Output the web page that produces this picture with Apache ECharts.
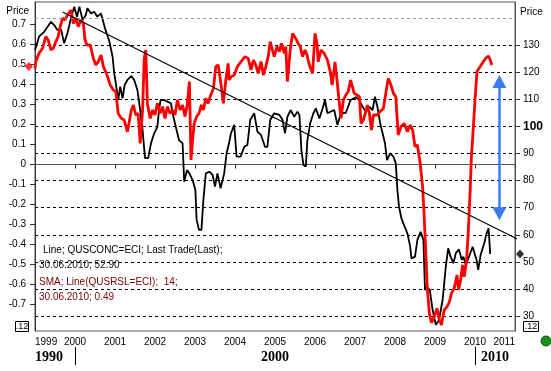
<!DOCTYPE html>
<html><head><meta charset="utf-8">
<script src="https://cdn.jsdelivr.net/npm/echarts@6/dist/echarts.min.js"></script>
<style>html,body{margin:0;padding:0;background:#fff}#c{width:551px;height:371px}</style>
</head><body><div id="c"></div>
<script>
// ---- data ----
const yearTicks = [1999,2000,2001,2002,2003,2004,2005,2006,2007,2008,2009,2010,2011];
const leftTicks = [-0.7,-0.6,-0.5,-0.4,-0.3,-0.2,-0.1,0,0.1,0.2,0.3,0.4,0.5,0.6,0.7];
const rightTicks = [30,40,50,60,70,80,90,100,110,120,130];
const decadeSeparators = [2000, 2010];
const decadeLabelPos = [1999.35, 2005, 2010.5];
const legendLines = ['Line; QUSCONC=ECI; Last Trade(Last);', '30.06.2010; 52.90', 'SMA; Line(QUSRSL=ECI);  14;', '30.06.2010; 0.49'];
const lastConf = 52.90;
const lastSales = 0.49;
// consumer confidence (black, right axis)
const consumerConfidence = [[1999.00,128.3],[1999.10,133.2],[1999.23,135.0],[1999.40,138.7],[1999.48,137.5],[1999.56,135.7],[1999.65,135.9],[1999.73,130.8],[1999.81,134.5],[1999.90,140.0],[1999.98,144.3],[2000.05,140.6],[2000.11,144.3],[2000.19,139.4],[2000.27,141.2],[2000.31,143.7],[2000.40,141.8],[2000.48,142.4],[2000.56,140.6],[2000.65,141.8],[2000.75,136.3],[2000.86,131.4],[2000.94,125.8],[2000.98,119.7],[2001.02,116.0],[2001.08,109.8],[2001.13,114.7],[2001.19,110.4],[2001.24,115.3],[2001.31,117.2],[2001.41,118.7],[2001.48,117.2],[2001.56,113.5],[2001.63,106.1],[2001.69,98.7],[2001.75,88.3],[2001.83,88.3],[2001.90,93.8],[2001.98,97.5],[2002.06,99.9],[2002.10,106.1],[2002.14,109.8],[2002.23,109.8],[2002.31,109.2],[2002.40,108.6],[2002.44,104.9],[2002.52,99.9],[2002.60,95.0],[2002.69,93.8],[2002.73,79.6],[2002.80,83.9],[2002.86,82.7],[2002.94,80.2],[2003.01,76.5],[2003.04,65.5],[2003.10,61.8],[2003.16,61.8],[2003.21,72.9],[2003.27,82.7],[2003.36,83.3],[2003.44,82.1],[2003.50,77.8],[2003.56,82.7],[2003.64,77.2],[2003.73,82.7],[2003.79,90.1],[2003.85,93.8],[2003.90,97.5],[2003.98,100.6],[2004.04,88.9],[2004.14,88.9],[2004.23,92.5],[2004.31,93.2],[2004.38,102.4],[2004.48,104.9],[2004.56,98.1],[2004.65,96.9],[2004.75,92.5],[2004.81,92.5],[2004.88,102.4],[2004.98,104.9],[2005.11,104.3],[2005.19,102.4],[2005.25,97.5],[2005.31,103.6],[2005.39,106.1],[2005.48,103.6],[2005.56,105.5],[2005.61,104.3],[2005.66,91.3],[2005.71,85.8],[2005.77,85.2],[2005.81,95.0],[2005.88,101.2],[2005.96,104.9],[2006.02,106.7],[2006.11,103.0],[2006.19,106.7],[2006.25,109.8],[2006.31,104.9],[2006.48,106.1],[2006.56,100.6],[2006.65,104.9],[2006.77,105.1],[2006.89,109.8],[2007.02,110.8],[2007.11,109.8],[2007.19,107.3],[2007.27,105.5],[2007.36,107.3],[2007.44,106.1],[2007.50,111.0],[2007.56,107.3],[2007.63,101.2],[2007.69,97.5],[2007.75,93.8],[2007.80,87.6],[2007.88,90.1],[2007.96,88.9],[2008.02,86.4],[2008.06,76.5],[2008.10,70.4],[2008.16,66.1],[2008.24,63.0],[2008.31,60.5],[2008.38,55.6],[2008.41,51.3],[2008.50,51.9],[2008.56,58.1],[2008.64,61.1],[2008.71,58.1],[2008.75,39.6],[2008.80,40.8],[2008.87,39.6],[2008.94,32.2],[2009.02,26.7],[2009.10,28.5],[2009.19,35.9],[2009.27,48.2],[2009.33,55.0],[2009.39,51.9],[2009.46,49.5],[2009.52,53.2],[2009.60,54.6],[2009.67,50.7],[2009.71,51.9],[2009.77,48.8],[2009.85,51.9],[2009.94,55.6],[2009.98,56.2],[2010.04,50.7],[2010.08,47.0],[2010.14,52.5],[2010.23,56.9],[2010.29,60.5],[2010.34,62.4],[2010.38,52.9]];
// retail sales SMA 14 (red, left axis)
const retailSalesSMA = [[1999.00,0.48],[1999.02,0.514],[1999.10,0.557],[1999.19,0.582],[1999.27,0.640],[1999.33,0.623],[1999.40,0.573],[1999.46,0.582],[1999.52,0.615],[1999.58,0.640],[1999.63,0.690],[1999.69,0.732],[1999.75,0.723],[1999.81,0.748],[1999.90,0.773],[1999.96,0.706],[2000.02,0.732],[2000.08,0.690],[2000.15,0.723],[2000.21,0.706],[2000.25,0.623],[2000.30,0.598],[2000.38,0.598],[2000.46,0.531],[2000.52,0.498],[2000.58,0.514],[2000.65,0.548],[2000.71,0.490],[2000.80,0.448],[2000.88,0.398],[2000.96,0.373],[2001.02,0.364],[2001.08,0.256],[2001.16,0.231],[2001.23,0.223],[2001.31,0.164],[2001.41,0.273],[2001.46,0.298],[2001.52,0.248],[2001.58,0.256],[2001.63,0.106],[2001.69,0.273],[2001.73,0.532],[2001.77,0.573],[2001.81,0.306],[2001.88,0.231],[2001.94,0.273],[2002.00,0.248],[2002.06,0.306],[2002.13,0.256],[2002.19,0.290],[2002.25,0.231],[2002.31,0.290],[2002.38,0.256],[2002.44,0.273],[2002.50,0.248],[2002.56,0.323],[2002.63,0.273],[2002.69,0.298],[2002.75,0.240],[2002.80,0.290],[2002.86,0.415],[2002.90,0.023],[2002.94,0.123],[2002.98,0.206],[2003.04,0.240],[2003.10,0.256],[2003.16,0.298],[2003.21,0.273],[2003.27,0.331],[2003.33,0.306],[2003.38,0.340],[2003.46,0.381],[2003.52,0.490],[2003.58,0.498],[2003.64,0.415],[2003.71,0.306],[2003.77,0.423],[2003.83,0.506],[2003.85,0.423],[2003.91,0.440],[2003.98,0.448],[2004.06,0.490],[2004.15,0.515],[2004.25,0.540],[2004.33,0.531],[2004.40,0.473],[2004.46,0.523],[2004.52,0.498],[2004.58,0.456],[2004.65,0.515],[2004.71,0.448],[2004.77,0.490],[2004.83,0.540],[2004.88,0.615],[2004.92,0.623],[2004.98,0.540],[2005.05,0.590],[2005.11,0.565],[2005.16,0.606],[2005.23,0.556],[2005.27,0.590],[2005.31,0.415],[2005.38,0.573],[2005.44,0.656],[2005.52,0.631],[2005.58,0.606],[2005.63,0.590],[2005.69,0.540],[2005.75,0.573],[2005.80,0.548],[2005.86,0.498],[2005.94,0.456],[2006.00,0.656],[2006.05,0.606],[2006.08,0.514],[2006.15,0.573],[2006.23,0.556],[2006.31,0.523],[2006.38,0.465],[2006.43,0.398],[2006.50,0.514],[2006.55,0.423],[2006.61,0.306],[2006.65,0.231],[2006.71,0.323],[2006.77,0.348],[2006.83,0.365],[2006.89,0.423],[2006.94,0.431],[2006.98,0.356],[2007.05,0.348],[2007.11,0.340],[2007.15,0.206],[2007.21,0.223],[2007.27,0.265],[2007.31,0.298],[2007.36,0.256],[2007.41,0.173],[2007.46,0.248],[2007.55,0.248],[2007.63,0.265],[2007.71,0.281],[2007.77,0.356],[2007.83,0.431],[2007.90,0.398],[2007.96,0.356],[2008.02,0.340],[2008.08,0.148],[2008.15,0.190],[2008.23,0.206],[2008.31,0.165],[2008.38,0.198],[2008.44,0.173],[2008.50,0.090],[2008.56,0.098],[2008.63,0.006],[2008.69,-0.110],[2008.73,-0.260],[2008.77,-0.444],[2008.81,-0.627],[2008.86,-0.744],[2008.91,-0.791],[2008.98,-0.761],[2009.05,-0.719],[2009.11,-0.777],[2009.16,-0.802],[2009.23,-0.727],[2009.30,-0.711],[2009.36,-0.686],[2009.41,-0.644],[2009.48,-0.619],[2009.55,-0.552],[2009.59,-0.627],[2009.64,-0.577],[2009.69,-0.502],[2009.73,-0.561],[2009.79,-0.477],[2009.83,-0.344],[2009.88,-0.127],[2009.91,0.040],[2009.96,0.190],[2010.00,0.323],[2010.05,0.465],[2010.13,0.490],[2010.21,0.515],[2010.27,0.532],[2010.34,0.543],[2010.38,0.523],[2010.42,0.498]];
// drawn trend line and arrow (right axis units)
const trendLine = [[1999.69,142.3],[2011.16,57.7]];
const arrowX = 2010.61;
const arrowFrom = 116.6;
const arrowTo = 67.8;

// ---- chart ----
const FONT = '"Liberation Sans", Arial, sans-serif';
const chart = echarts.init(document.getElementById('c'), null, {renderer: 'canvas'});
const dash = [3, 3];
chart.setOption({
  animation: false,
  backgroundColor: '#fff',
  textStyle: {fontFamily: FONT},
  grid: {left: 35, right: 36, top: 2, bottom: 40, show: true, borderColor: '#555', borderWidth: 1, backgroundColor: 'transparent'},
  xAxis: [{
    type: 'value', min: 1999, max: 2011, interval: 1, position: 'bottom',
    axisLine: {show: true, lineStyle: {color: '#555'}},
    axisTick: {show: true, length: 4, lineStyle: {color: '#333'}},
    axisLabel: {fontSize: 10, color: '#000', margin: 6, formatter: v => String(v), alignMinLabel: 'left', alignMaxLabel: 'right'},
    splitLine: {show: false}
  }, {
    type: 'value', min: 1999, max: 2011, position: 'bottom', offset: 16,
    axisLine: {show: false},
    axisTick: {show: true, customValues: decadeSeparators, length: 18, lineStyle: {color: '#000', width: 1}},
    axisLabel: {customValues: decadeLabelPos, formatter: v => String(Math.floor(v / 10) * 10), margin: 3,
      fontFamily: '"Liberation Serif", "Times New Roman", serif', fontWeight: 'bold', fontSize: 14, color: '#000'},
    splitLine: {show: false}
  }],
  yAxis: [{
    type: 'value', position: 'left', min: -0.832, max: 0.813,
    name: 'Price', nameLocation: 'end', nameGap: -9,
    nameTextStyle: {align: 'right', verticalAlign: 'middle', padding: [0, 6, 0, 0], fontSize: 10, color: '#000'},
    axisLine: {show: true, lineStyle: {color: '#333'}},
    axisTick: {show: true, customValues: leftTicks, length: 5, lineStyle: {color: '#333'}},
    axisLabel: {customValues: leftTicks, fontSize: 10, color: '#000', margin: 9, formatter: v => String(Math.round(v * 10) / 10)},
    splitLine: {show: false}
  }, {
    type: 'value', position: 'right', min: 24.44, max: 146.02,
    name: 'Price', nameLocation: 'end', nameGap: -10,
    nameTextStyle: {align: 'left', verticalAlign: 'middle', padding: [0, 0, 0, 5], fontSize: 10, color: '#000'},
    axisLine: {show: true, lineStyle: {color: '#555'}},
    axisTick: {show: true, customValues: rightTicks, length: 5, lineStyle: {color: '#333'}},
    axisLabel: {customValues: rightTicks, fontSize: 10, color: '#000', margin: 8,
      formatter: v => v === 100 ? '{b|100}' : String(v),
      rich: {b: {fontWeight: 'bold', fontSize: 12, color: '#000', fontFamily: FONT}}},
    splitLine: {show: true, lineStyle: {color: '#000', type: dash, width: 1}}
  }],
  series: [{
    type: 'line', xAxisIndex: 0, yAxisIndex: 1, data: consumerConfidence, showSymbol: false, symbol: 'none',
    lineStyle: {color: '#000', width: 1.8}, z: 3,
    markLine: {silent: true, symbol: 'none', label: {show: false},
      lineStyle: {color: '#999', type: dash, width: 1}, data: [{yAxis: 140}]}
  }, {
    type: 'line', xAxisIndex: 0, yAxisIndex: 0, data: retailSalesSMA, showSymbol: false, symbol: 'none',
    lineStyle: {color: '#ff0000', width: 2.8}, z: 4
  }, {
    type: 'line', xAxisIndex: 0, yAxisIndex: 1, data: trendLine, showSymbol: false, symbol: 'none', clip: false,
    lineStyle: {color: '#000', width: 1.2}, z: 5,
    markLine: {silent: true, symbol: ['triangle', 'triangle'], symbolSize: [14, 13], label: {show: false},
      lineStyle: {color: '#3a7cf0', width: 2.5, type: 'solid'},
      itemStyle: {color: '#6b9ff5'},
      data: [[{coord: [arrowX, arrowFrom]}, {coord: [arrowX, arrowTo]}]]}
  }, {
    type: 'scatter', xAxisIndex: 0, yAxisIndex: 0, clip: false, symbol: 'diamond', symbolSize: [8, 9],
    itemStyle: {color: '#ff0000'}, data: [[1998.845, lastSales]], z: 6
  }, {
    type: 'scatter', xAxisIndex: 0, yAxisIndex: 1, clip: false, symbol: 'diamond', symbolSize: [8, 9],
    itemStyle: {color: '#000'}, data: [[2011.125, lastConf]], z: 6
  }],
  graphic: [
    {type: 'text', left: 43, top: 245, z: 10, style: {text: legendLines[0], fill: '#000', font: '10px ' + FONT}},
    {type: 'text', left: 39, top: 260, z: 10, style: {text: legendLines[1], fill: '#111', font: '10px ' + FONT}},
    {type: 'text', left: 39, top: 277, z: 10, style: {text: legendLines[2], fill: '#7a0000', font: '10px ' + FONT}},
    {type: 'text', left: 39, top: 292, z: 10, style: {text: legendLines[3], fill: '#7a0000', font: '10px ' + FONT}},
    {type: 'group', left: 15, top: 321, children: [
      {type: 'rect', shape: {x: 0, y: 0, width: 13, height: 10}, style: {fill: '#fff', stroke: '#000', lineWidth: 1}},
      {type: 'text', x: 6.5, y: 5, style: {text: '.12', fill: '#000', font: '9px ' + FONT, align: 'center', verticalAlign: 'middle'}}
    ]},
    {type: 'group', left: 523, top: 321, children: [
      {type: 'rect', shape: {x: 0, y: 0, width: 15, height: 10}, style: {fill: '#fff', stroke: '#000', lineWidth: 1}},
      {type: 'text', x: 7.5, y: 5, style: {text: '.12', fill: '#000', font: '9px ' + FONT, align: 'center', verticalAlign: 'middle'}}
    ]},
    {type: 'circle', shape: {cx: 546, cy: 341, r: 5}, style: {fill: '#1e8e1e', stroke: '#0b5a0b', lineWidth: 1}}
  ]
});
</script></body></html>
